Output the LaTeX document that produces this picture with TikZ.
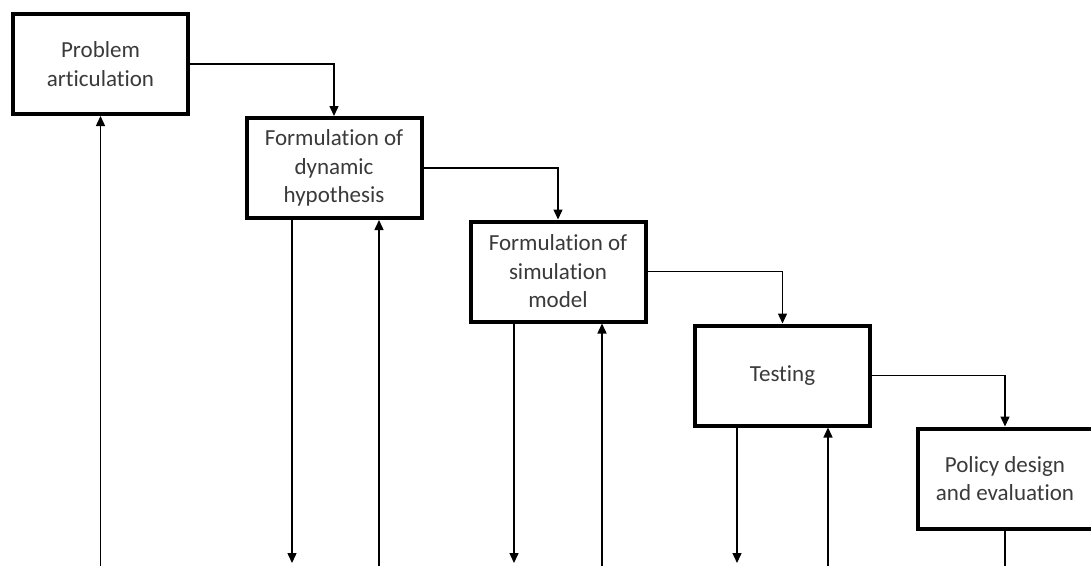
\documentclass[tikz,border=0pt]{standalone}
\usepackage{fontspec}
\setmainfont[Ligatures=NoCommon]{Carlito}
\usetikzlibrary{arrows.meta}
\definecolor{txtgray}{HTML}{3A3A3A}
\tikzset{
  stage/.style={draw=black, line width=4pt, fill=white,
    minimum width=175pt, minimum height=100pt, inner sep=2pt,
    align=center, text=txtgray, font=\fontsize{23}{28.5}\selectfont},
  link/.style={draw=black, line width=1.4pt,
    -{Triangle[width=9pt,length=10pt]}},
  plain/.style={draw=black, line width=1.4pt}
}
\begin{document}
\begin{tikzpicture}[x=1pt, y=-1pt]
  \useasboundingbox (0,0) rectangle (1091,565);
  \clip (0,0) rectangle (1091,565);
  \coordinate (bot) at (0,566);
  \coordinate (tipy) at (0,563);

  % stages of the modelling process
  \node[stage] (b1) at (100.5,64)  {Problem\\articulation};
  \node[stage] (b2) at (334,168)   {Formulation of\\dynamic\\hypothesis};
  \node[stage] (b3) at (558,271.5) {Formulation of\\simulation\\model};
  \node[stage] (b4) at (782.5,375.5) {Testing};
  \node[stage] (b5) at (1005,478.5) {Policy design\\and evaluation};

  % forward steps
  \draw[link] (b1.east) -| (b2.north);
  \draw[link] (b2.east) -| (b3.north);
  \draw[link] (b3.east) -| (b4.north);
  \draw[link] (b4.east) -| (b5.north);

  % feedback lines running below the stages
  \coordinate (d2) at ([xshift=-42pt]b2.south);
  \coordinate (u2) at ([xshift=45pt]b2.south);
  \coordinate (d3) at ([xshift=-44pt]b3.south);
  \coordinate (u3) at ([xshift=44pt]b3.south);
  \coordinate (d4) at ([xshift=-45.5pt]b4.south);
  \coordinate (u4) at ([xshift=45.5pt]b4.south);

  \draw[link] (b1.south |- bot) -- (b1.south);
  \draw[link] (d2) -- (d2 |- tipy);
  \draw[link] (u2 |- bot) -- (u2);
  \draw[link] (d3) -- (d3 |- tipy);
  \draw[link] (u3 |- bot) -- (u3);
  \draw[link] (d4) -- (d4 |- tipy);
  \draw[link] (u4 |- bot) -- (u4);
  \draw[plain] (b5.south) -- (b5.south |- bot);
\end{tikzpicture}
\end{document}
